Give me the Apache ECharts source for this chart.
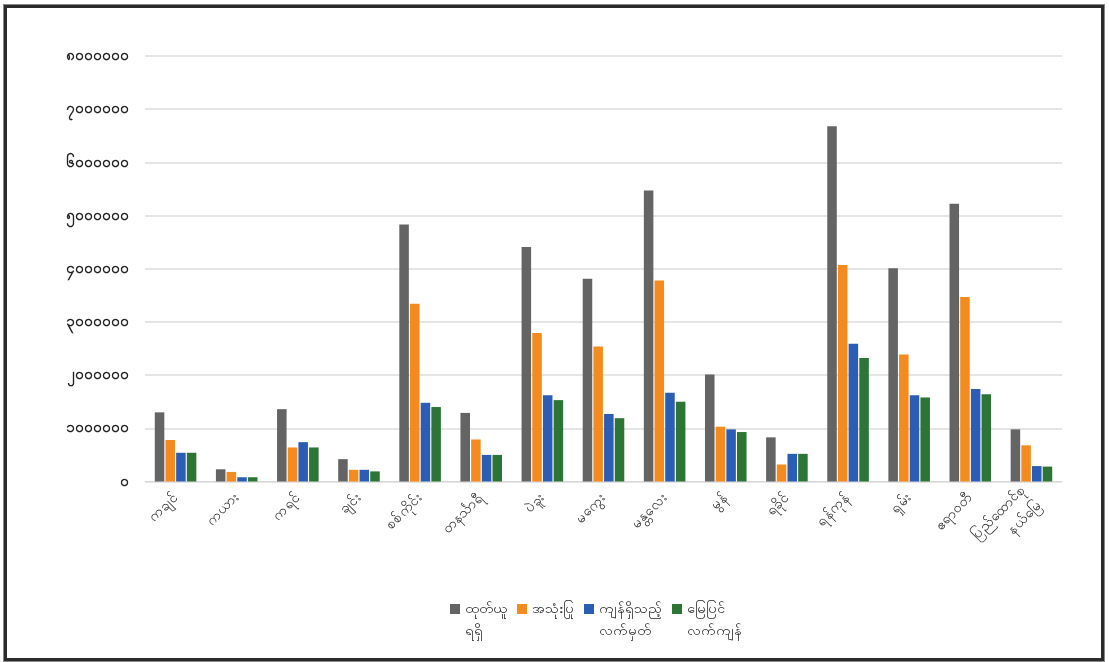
<!DOCTYPE html>
<html><head><meta charset="utf-8">
<script src="https://cdn.jsdelivr.net/npm/echarts@6/dist/echarts.min.js"></script>
<style>
html,body{margin:0;padding:0;background:#fff;}
#frame{position:absolute;left:4px;top:5px;width:1094px;height:650px;border:3px solid #2b2b2b;box-shadow:0 0 0 1px #888;}
#chart{position:absolute;left:0;top:0;width:1109px;height:662px;}
</style></head>
<body>
<div id="chart"></div>
<div id="frame"></div>
<script>
const categories = ['ကချင်','ကယား','ကရင်','ချင်း','စစ်ကိုင်း','တနင်္သာရီ','ပဲခူး','မကွေး','မန္တလေး','မွန်','ရခိုင်','ရန်ကုန်','ရှမ်း','ဧရာဝတီ','ပြည်ထောင်စု\nနယ်မြေ'];
const seriesNames = ['ထုတ်ယူ\nရရှိ','အသုံးပြု\n ','ကျန်ရှိသည့်\nလက်မှတ်','မြေပြင်\nလက်ကျန်'];
const produced = [1300000,230000,1360000,420000,4830000,1290000,4410000,3810000,5470000,2010000,830000,6680000,4010000,5220000,980000];
const used     = [780000,180000,640000,220000,3340000,790000,2790000,2540000,3780000,1030000,320000,4070000,2390000,3470000,680000];
const remaining= [540000,80000,740000,220000,1480000,500000,1620000,1270000,1670000,980000,520000,2590000,1620000,1740000,290000];
const balance  = [540000,80000,640000,190000,1400000,500000,1530000,1190000,1500000,930000,520000,2320000,1580000,1640000,280000];
const yTicks = {min:0, max:8000000, interval:1000000};
const colors = ['#646464','#F38B1F','#2C5DB5','#2C7534'];

const mmDigits = '၀၁၂၃၄၅၆၇၈၉';
const toMM = v => String(v).replace(/[0-9]/g, d => mmDigits[+d]);

const chart = echarts.init(document.getElementById('chart'));
const dataSets = [produced, used, remaining, balance];
chart.setOption({
  animation:false,
  color: colors,
  grid:{left:145, right:47, top:56, bottom:180.5, containLabel:false},
  legend:{
    top:593, left:445, itemWidth:10, itemHeight:32, itemGap:10,
    icon:'path://M0,0H10V10H0Z M0,32H0.01V32.01H0Z',
    textStyle:{fontSize:14, color:'#222', lineHeight:22},
    data: seriesNames
  },
  xAxis:{
    type:'category', data:categories,
    axisLine:{lineStyle:{color:'#d9d9d9', width:1}},
    axisTick:{show:false},
    axisLabel:{rotate:45, fontSize:14, color:'#222', interval:0, margin:14, lineHeight:22}
  },
  yAxis:{
    type:'value', min:yTicks.min, max:yTicks.max, interval:yTicks.interval,
    axisLine:{show:false}, axisTick:{show:false},
    splitLine:{lineStyle:{color:'#dcdcdc', width:1.5}},
    axisLabel:{fontSize:15, color:'#222', margin:16, fontWeight:'bold', formatter: v => toMM(v)}
  },
  series: seriesNames.map((n,i)=>({
    name:n, type:'bar', data:dataSets[i],
    barGap:'12%', barCategoryGap:'32%'
  }))
});
</script>
</body></html>
